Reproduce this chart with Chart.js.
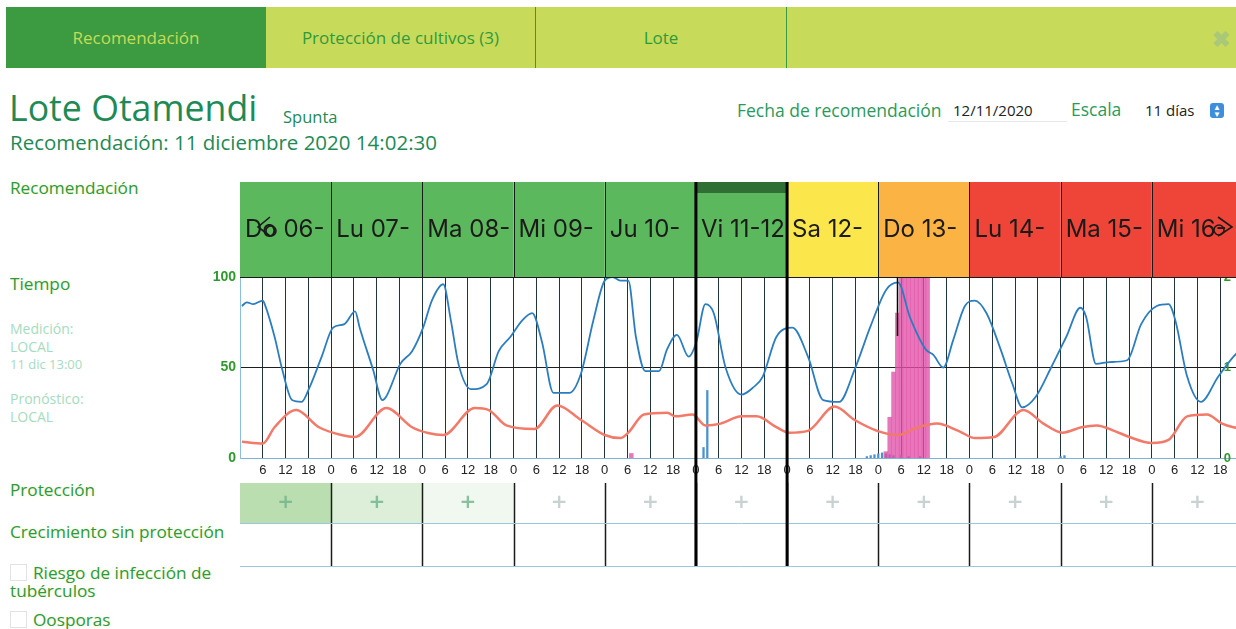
<!DOCTYPE html>
<html lang="es">
<head>
<meta charset="UTF-8">
<title>Lote Otamendi - Recomendación</title>
<script src="https://cdn.jsdelivr.net/npm/chart.js"></script>
<style>
  html, body { margin: 0; padding: 0; overflow: hidden; background: #fff; }
  body { width: 1236px; height: 629px; position: relative; font-family: "Open Sans", sans-serif; }
  .tabs { position: absolute; left: 6px; top: 7px; width: 1230px; height: 61px; background: #c8da5a; }
  .tab { position: absolute; top: 0; height: 61px; line-height: 61px; text-align: center; font-size: 17px; color: #2f9a3c; }
  .close { position: absolute; left: 1206px; top: 16px; font-size: 22px; color: #a9c878; font-weight: bold; }
  .green { color: #2c9a3e; text-shadow: 0 0 3px rgba(230,230,120,0.5); }
  .lbl { position: absolute; left: 10px; font-size: 17.2px; white-space: nowrap; }
  .small { position: absolute; left: 10px; font-size: 14px; color: #a6dbc0; line-height: 17.5px; }
  .chk { display: inline-block; width: 15px; height: 15px; border: 1px solid #e2e2e2; vertical-align: -2px; margin-right: 6px; }
  #wrap { position: absolute; left: 190px; top: 170px; }
</style>
</head>
<body>
  <div class="tabs">
    <div class="tab" style="left:0;width:260px;background:#3c9a41;color:#c5dc57;">Recomendación</div>
    <div class="tab" style="left:260px;width:269px;border-right:1px solid #3a9a3f;">Protección de cultivos (3)</div>
    <div class="tab" style="left:530px;width:250px;border-right:1px solid #3a9a3f;">Lote</div>
    <div class="close">&#10006;</div>
  </div>

  <div style="position:absolute;left:9px;top:83px;font-size:35.7px;color:#1e8a55;white-space:nowrap;">Lote Otamendi</div>
  <div style="position:absolute;left:283px;top:105px;font-size:16.5px;color:#1e8a55;">Spunta</div>
  <div style="position:absolute;left:10px;top:128px;font-size:20.5px;color:#1e8a55;white-space:nowrap;">Recomendación: 11 diciembre 2020 14:02:30</div>

  <div style="position:absolute;left:737px;top:98px;font-size:17.5px;color:#2a9a5a;white-space:nowrap;">Fecha de recomendación</div>
  <div style="position:absolute;left:948px;top:100px;width:114px;height:21px;border-bottom:1px solid #e4e8ee;font-size:15px;color:#222;padding-left:5px;">12/11/2020</div>
  <div style="position:absolute;left:1071px;top:97px;font-size:17.5px;color:#2a9a5a;">Escala</div>
  <div style="position:absolute;left:1145px;top:100px;font-size:15px;color:#222;">11 días</div>
  <div style="position:absolute;left:1210px;top:103px;width:14px;height:15px;border-radius:3px;background:#3d8fdc;color:#fff;font-size:8px;line-height:7px;text-align:center;">&#9650;<br>&#9660;</div>

  <div class="lbl green" style="top:176px;">Recomendación</div>
  <div class="lbl green" style="top:272px;">Tiempo</div>
  <div class="small" style="top:320px;">Medición:<br>LOCAL<br><span style="font-size:13px">11 dic 13:00</span></div>
  <div class="small" style="top:390px;">Pronóstico:<br>LOCAL</div>
  <div class="lbl green" style="top:478px;">Protección</div>
  <div class="lbl green" style="top:520px;">Crecimiento sin protección</div>
  <div class="lbl green" style="top:564px;line-height:18px;"><span class="chk"></span>Riesgo de infección de<br>tubérculos</div>
  <div class="lbl green" style="top:608px;"><span class="chk"></span>Oosporas</div>

  <div id="wrap"><canvas id="weather" width="1058" height="403"></canvas></div>

<script>
// dias de la recomendacion (11 dias)
const days = ['Do 06-', 'Lu 07-', 'Ma 08-', 'Mi 09-', 'Ju 10-', 'Vi 11-12', 'Sa 12-', 'Do 13-', 'Lu 14-', 'Ma 15-', 'Mi 16-'];
const dayRisk = ['bajo', 'bajo', 'bajo', 'bajo', 'bajo', 'bajo', 'medio', 'alto', 'muy alto', 'muy alto', 'muy alto'];
const protectionLevel = [1, 0.5, 0.2, 0, 0, 0, 0, 0, 0, 0, 0];
const todayIndex = 5;
const nowHour = 173;

// humedad relativa (%), hora desde el inicio
const humHours = [0, 1.3, 3, 5.5, 6, 8.6, 10.6, 13.2, 15.7, 17.8, 21, 24, 27, 29.8, 31, 34.5, 37, 38, 41.7, 44.8, 47.7,
  50, 53, 55, 57, 60.3, 64.5, 67.6, 70.7, 73.8, 76.4, 79, 82, 86.2, 89.3, 92.5, 95.5, 97.6, 99.6, 101.7, 103.7, 106.2,
  109.8, 111.9, 114.5, 117.6, 119.6, 122, 124.2, 127.3, 131.5, 134.6, 137.1, 140.7, 144.9, 149, 153, 157.2, 161.3,
  165.5, 169.6, 172.7, 175.8, 180, 182, 184.6, 187.2, 190.3, 192.9, 196, 199.7, 202.8, 205.4, 209, 213, 217, 220.7,
  222.2, 224.8, 228.4, 233, 236.7, 240.8, 243.9, 245.7, 248.8, 252.4, 257, 261, 264];
const humidity = [84, 86, 85, 87, 85, 67, 49, 32, 31, 39, 56, 72, 74, 81, 72, 49, 32, 34, 52, 59, 72,
  87, 96, 76, 52, 38, 41, 59, 67, 76, 80, 64, 36, 36, 47, 76, 98, 100, 98, 98, 67, 48,
  48, 60, 68, 56, 64, 85, 80, 50, 35, 39, 45, 67, 72, 56, 32, 31, 49,
  73, 93, 97, 78, 60, 57, 50, 65, 84, 87, 80, 60, 41, 28, 34, 50, 67, 83,
  78, 52, 53, 54, 74, 84, 85, 76, 45, 31, 45, 56, 62];

// temperatura (°C)
const tempHours = [0, 5.5, 8.6, 14.3, 20.3, 26.2, 29.8, 38, 44.8, 49, 53, 61.3, 65, 69.6, 77, 83, 89.3, 95.5, 99.6,
  101.7, 105.8, 112, 114, 118.6, 122, 126, 131.5, 135.5, 140.7, 144, 149, 156, 161.3, 167.6, 172.7, 178, 183,
  188.6, 193, 198, 205.7, 211, 216, 221, 225, 229.6, 233.6, 239.5, 243.9, 248.8, 254, 258, 261, 264];
const temperature = [9, 8, 17, 26.5, 17, 12.7, 11.6, 27.6, 17, 13.8, 12.7, 27.6, 26.5, 18, 16, 29, 21, 12.7, 11,
  14, 24, 25, 23, 24, 18, 19, 23, 23, 17, 14, 15, 28.4, 21, 14.7, 12.7, 17, 19,
  15, 11, 11.6, 26.5, 19, 14, 17, 18, 15, 11.6, 8.3, 10, 23, 24, 19, 17, 16];

// precipitacion (mm/h) y otra medida en azul, eje derecho 0-2
const rainHours = [102, 169, 170, 171, 172, 173, 174, 175, 176, 177, 178, 179, 180];
const rain = [0.05, 0.07, 0.45, 0.95, 1.6, 2.4, 2.6, 2.8, 2.7, 2.5, 2.6, 2.4, 2.2];
const blueHours = [121, 122, 164, 165, 166, 167, 168, 169, 170, 171, 173, 175, 178, 215, 216];
const blueBars = [0.12, 0.75, 0.02, 0.03, 0.04, 0.05, 0.06, 0.05, 0.04, 0.03, 0.03, 0.02, 0.02, 0.02, 0.03];

const riskColor = { 'bajo': '#5cb85c', 'medio': '#fbe64b', 'alto': '#fbb344', 'muy alto': '#ef4539' };

const pairs = (xs, ys, off) => xs.map((x, i) => ({ x: x + (off || 0), y: ys[i] }));

// cabecera de dias y filas de proteccion, dibujadas con la escala x
const extrasPlugin = {
  id: 'extras',
  afterDraw(chart) {
    const ctx = chart.ctx;
    const xs = chart.scales.x;
    const area = chart.chartArea;
    const headTop = area.top - 95;
    const rowTop = area.bottom + 25;
    const rowMid = rowTop + 40;
    const rowBot = rowTop + 83;
    ctx.save();

    days.forEach((d, i) => {
      const x0 = xs.getPixelForValue(i * 24);
      const x1 = xs.getPixelForValue((i + 1) * 24);
      ctx.fillStyle = riskColor[dayRisk[i]];
      ctx.fillRect(x0, headTop, x1 - x0, area.top - headTop);
      if (i === todayIndex) {
        ctx.fillStyle = '#2f6f36';
        ctx.fillRect(x0, headTop, x1 - x0, 11);
      }
      ctx.save();
      ctx.beginPath();
      ctx.rect(x0, headTop, x1 - x0, area.top - headTop);
      ctx.clip();
      ctx.fillStyle = '#1b1b1b';
      ctx.font = '24px Inter, sans-serif';
      ctx.textBaseline = 'middle';
      ctx.fillText(d, x0 + 5, headTop + 48);
      ctx.restore();

      // proteccion
      if (protectionLevel[i] > 0) {
        ctx.fillStyle = 'rgba(120,190,100,' + (0.5 * protectionLevel[i]) + ')';
        ctx.fillRect(x0, rowTop, x1 - x0, rowMid - rowTop);
      }
      ctx.fillStyle = protectionLevel[i] > 0 ? 'rgba(110,180,140,0.8)' : '#c9d2d2';
      ctx.font = 'bold 20px "DejaVu Sans", sans-serif';
      ctx.textAlign = 'center';
      ctx.textBaseline = 'middle';
      ctx.fillText('+', (x0 + x1) / 2, rowTop + 20);
      ctx.textAlign = 'left';
    });

    // separaciones
    ctx.strokeStyle = '#1b1b1b';
    for (let i = 1; i < days.length; i++) {
      const x = Math.round(xs.getPixelForValue(i * 24)) + 0.5;
      ctx.lineWidth = 1;
      ctx.beginPath(); ctx.moveTo(x, headTop); ctx.lineTo(x, area.top); ctx.stroke();
      ctx.lineWidth = 1.5;
      ctx.beginPath(); ctx.moveTo(x, rowTop); ctx.lineTo(x, rowBot); ctx.stroke();
    }
    ctx.lineWidth = 1;
    ctx.beginPath(); ctx.moveTo(area.left, area.top + 0.5); ctx.lineTo(area.right, area.top + 0.5); ctx.stroke();

    ctx.strokeStyle = '#9cc6dc';
    [rowMid, rowBot].forEach(y => {
      ctx.beginPath(); ctx.moveTo(area.left, y + 0.5); ctx.lineTo(area.right, y + 0.5); ctx.stroke();
    });

    // dia actual
    ctx.strokeStyle = '#000';
    ctx.lineWidth = 3;
    [todayIndex, todayIndex + 1].forEach(i => {
      const x = xs.getPixelForValue(i * 24);
      ctx.beginPath(); ctx.moveTo(x, headTop); ctx.lineTo(x, rowBot); ctx.stroke();
    });

    // hora actual
    const xn = Math.round(xs.getPixelForValue(nowHour)) + 0.5;
    ctx.lineWidth = 1.5;
    ctx.beginPath(); ctx.moveTo(xn, area.top); ctx.lineTo(xn, area.top + 59); ctx.stroke();

    // flechas de navegacion
    ctx.strokeStyle = '#1b1b1b';
    ctx.lineWidth = 1.6;
    const yl = headTop + 45;
    const xl = area.left + 18;
    ctx.beginPath(); ctx.moveTo(xl + 12, yl - 10); ctx.lineTo(xl, yl); ctx.lineTo(xl + 12, yl + 9); ctx.stroke();
    ctx.beginPath(); ctx.arc(xl + 13, yl + 4, 5, 0, Math.PI * 2); ctx.stroke();
    const xr = 1222 - 190;
    ctx.beginPath(); ctx.moveTo(xr - 4, yl - 10); ctx.lineTo(xr + 10, yl); ctx.lineTo(xr - 4, yl + 9); ctx.stroke();
    ctx.beginPath(); ctx.arc(xr - 3, yl + 3, 5, 0, Math.PI * 2); ctx.stroke();

    ctx.restore();
  }
};

new Chart(document.getElementById('weather'), {
  data: {
    datasets: [
      { type: 'line', label: 'Humedad', data: pairs(humHours, humidity), yAxisID: 'y',
        borderColor: '#2c7dbf', borderWidth: 1.8, pointRadius: 0, cubicInterpolationMode: 'monotone', order: 0 },
      { type: 'line', label: 'Temperatura', data: pairs(tempHours, temperature), yAxisID: 'y',
        borderColor: '#f27a69', borderWidth: 2.5, pointRadius: 0, cubicInterpolationMode: 'monotone', order: 0 },
      { type: 'bar', label: 'Precipitación', data: pairs(rainHours, rain, 0.5), yAxisID: 'y1',
        backgroundColor: 'rgba(224,80,168,0.78)', barPercentage: 1, categoryPercentage: 1, grouped: false, order: 1 },
      { type: 'bar', label: 'Otra', data: pairs(blueHours, blueBars, 0.5), yAxisID: 'y1',
        backgroundColor: '#4d92cc', barPercentage: 0.6, categoryPercentage: 1, grouped: false, order: 1 }
    ]
  },
  options: {
    responsive: false,
    animation: false,
    devicePixelRatio: 1,
    layout: { autoPadding: false, padding: { top: 107, bottom: 90, left: 0, right: 0 } },
    plugins: { legend: { display: false }, tooltip: { enabled: false } },
    scales: {
      // rejilla rojiza, levemente desplazada como en la app (debajo de la negra)
      xRed: {
        type: 'linear', position: 'bottom', min: -0.5, max: 263.5, offset: false,
        afterFit: s => { s.height = 0; },
        border: { display: false },
        grid: { color: 'rgba(240,120,110,0.35)', drawTicks: false, offset: false },
        ticks: { display: false, stepSize: 6 }
      },
      x: {
        type: 'linear', min: 0, max: 264, offset: false,
        afterFit: s => { s.height = 25; },
        border: { color: '#7cb4d6' },
        grid: { color: '#22343c', drawTicks: false, offset: false },
        ticks: {
          stepSize: 6, autoSkip: false, maxRotation: 0, padding: 5,
          color: '#222', font: { family: 'Liberation Sans', size: 13 },
          callback: v => (v === 0 || v === 264) ? '' : String(v % 24)
        }
      },
      y: {
        position: 'left', min: 0, max: 100,
        afterFit: s => { s.width = 50; },
        border: { color: '#8bbfe0' },
        grid: { color: ctx => ctx.tick.value === 0 ? 'rgba(0,0,0,0)' : '#1e1e1e', drawTicks: false },
        ticks: { stepSize: 50, padding: 4, color: '#2e9a2e', font: { family: 'Liberation Sans', size: 14, weight: 'bold' } }
      },
      y1: {
        position: 'right', min: 0, max: 2,
        afterFit: s => { s.width = 0; },
        border: { display: false },
        grid: { display: false, drawTicks: false },
        ticks: { stepSize: 1, mirror: true, padding: -12, color: '#2e9a2e', font: { family: 'Liberation Sans', size: 13, weight: 'bold' } }
      }
    }
  },
  plugins: [extrasPlugin]
});
</script>
</body>
</html>
